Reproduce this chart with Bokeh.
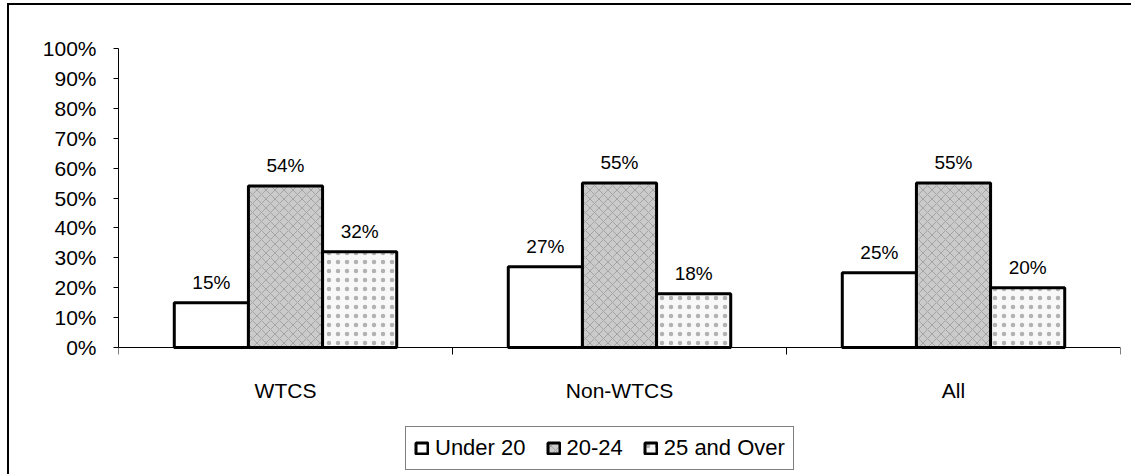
from bokeh.plotting import figure
from bokeh.models import (Range1d, FixedTicker, NumeralTickFormatter, Legend, LegendItem,
                          LabelSet, ColumnDataSource)
from bokeh.core.properties import value
from bokeh.embed import file_html
from bokeh.resources import INLINE

groups = ["WTCS", "Non-WTCS", "All"]
series = ["Under 20", "20-24", "25 and Over"]
under20 = [0.15, 0.27, 0.25]
age2024 = [0.54, 0.55, 0.55]
over25 = [0.32, 0.18, 0.20]
labels_under20 = ["15%", "27%", "25%"]
labels_2024 = ["54%", "55%", "55%"]
labels_over25 = ["32%", "18%", "20%"]

FONT = "Liberation Sans"
OX, OY = 9, 5
W, H = 1133 - OX, 476 - OY
# layout in page pixels
FRAME_L, FRAME_R, TOP_PX, ZERO_PX, FRAME_B = 118, 1120, 48, 347, 476
ymin = -(FRAME_B - ZERO_PX) / (ZERO_PX - TOP_PX)

p = figure(width=W, height=H, output_backend="svg", toolbar_location=None,
           x_range=Range1d(0, 3), y_range=Range1d(ymin, 1.0),
           min_border_left=FRAME_L - OX, min_border_right=OX + W - FRAME_R,
           min_border_top=TOP_PX - OY, min_border_bottom=OY + H - FRAME_B)
p.styles = {"border-left": "2px solid black", "border-top": "2px solid black",
            "margin-left": "7px", "margin-top": "3px"}
p.outline_line_color = None
p.grid.visible = False
p.background_fill_color = "white"
p.border_fill_color = "white"

# y axis
ya = p.yaxis[0]
ya.ticker = FixedTicker(ticks=[i / 10 for i in range(11)], minor_ticks=[])
ya.formatter = NumeralTickFormatter(format="0%")
ya.bounds = (0, 1)
ya.major_label_text_font = FONT
ya.major_label_text_font_size = "21px"
ya.major_label_text_color = "black"
ya.major_tick_out = 5
ya.major_tick_in = 0
ya.minor_tick_out = 0
ya.minor_tick_in = 0
ya.axis_line_color = "black"
ya.major_tick_line_color = "black"
ya.major_label_standoff = 17

# x axis, drawn at y = 0
xa = p.xaxis[0]
xa.fixed_location = 0
centers = [i + 0.5 for i in range(len(groups))]
xa.ticker = FixedTicker(ticks=centers, minor_ticks=[0, 1, 2, 3])
xa.major_label_overrides = {c: g for c, g in zip(centers, groups)}
xa.major_tick_out = 0
xa.major_tick_in = 0
xa.minor_tick_out = 7
xa.minor_tick_in = 0
xa.minor_tick_line_color = "black"
xa.axis_line_color = "black"
xa.major_label_text_font = FONT
xa.major_label_text_font_size = "21px"
xa.major_label_text_color = "black"
xa.major_label_standoff = 24

bw = 0.222
offs = [-bw, 0.0, bw]
styles = [
    dict(fill_color="white"),
    dict(fill_color="#cbcbcb", hatch_pattern="x", hatch_color="#8a8a8a", hatch_scale=9, hatch_weight=1.0, hatch_alpha=0.6),
    dict(fill_color="#f8f8f8", hatch_pattern=".", hatch_color="#a0a0a0", hatch_scale=9, hatch_weight=1.0, hatch_alpha=0.8),
]
vals = [under20, age2024, over25]
labs = [labels_under20, labels_2024, labels_over25]
items = []
for s, v, lb, off, st in zip(series, vals, labs, offs, styles):
    src = ColumnDataSource(dict(x=[c + off for c in centers], top=v, lab=lb))
    r = p.vbar(x="x", top="top", width=bw, bottom=0, source=src,
               line_color="black", line_width=3, **st)
    items.append(LegendItem(label=s, renderers=[r]))
    ls = LabelSet(x="x", y="top", text="lab", source=src, text_align="center",
                  text_baseline="bottom", y_offset=10, text_font=value(FONT),
                  text_font_size="19px", text_color="black")
    p.add_layout(ls)

legend = Legend(items=items, orientation="horizontal", location=(405 - FRAME_L, FRAME_B - 470),
                label_text_font=FONT, label_text_font_size="22px", label_text_color="black",
                glyph_width=15, glyph_height=14, spacing=20, label_standoff=6,
                padding=8, margin=0, border_line_color="black", border_line_width=1.5,
                background_fill_color="white", label_height=25)
p.add_layout(legend, "center")

open("out.html", "w").write(file_html(p, INLINE))
